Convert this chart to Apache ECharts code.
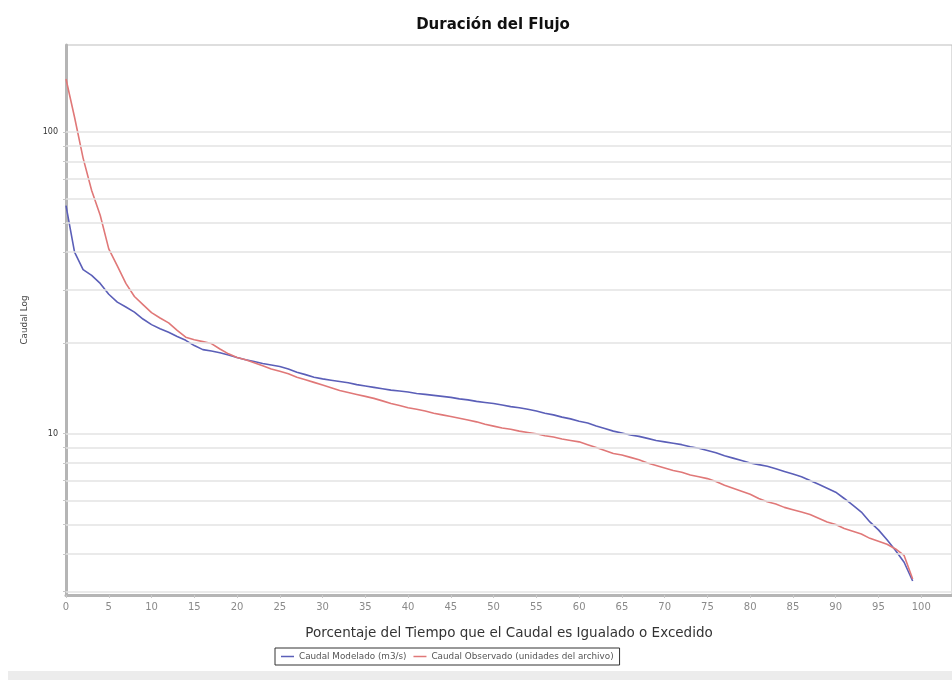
<!DOCTYPE html>
<html>
<head>
<meta charset="utf-8">
<script src="https://cdn.jsdelivr.net/npm/echarts@6/dist/echarts.min.js"></script>
<style>
  html, body { margin: 0; padding: 0; background: #fff; }
  #wrap { position: relative; width: 952px; height: 680px; background: #fff; }
  #band { position: absolute; left: 8px; right: 0; top: 671px; height: 9px; background: #ececec; }
  #chart { position: absolute; left: 0; top: 0; width: 952px; height: 680px; }
</style>
</head>
<body>
<div id="wrap"><div id="band"></div><div id="chart"></div></div>
<script>
// Percent of time flow is equalled or exceeded
const percent = [
  0,1,2,3,4,5,6,7,8,9,10,11,12,13,14,15,16,17,18,19,
  20,21,22,23,24,25,26,27,28,29,30,31,32,33,34,35,36,37,38,39,
  40,41,42,43,44,45,46,47,48,49,50,51,52,53,54,55,56,57,58,59,
  60,61,62,63,64,65,66,67,68,69,70,71,72,73,74,75,76,77,78,79,
  80,81,82,83,84,85,86,87,88,89,90,91,92,93,94,95,96,97,98,99
];
// Caudal Modelado (m3/s)
const modelado = [
  57,40,35,33.5,31.5,29,27.3,26.3,25.3,24.0,23.0,22.3,21.7,21.0,20.4,19.6,19.0,18.8,18.55,18.25,
  17.9,17.6,17.35,17.1,16.9,16.7,16.4,16.0,15.7,15.4,15.2,15.05,14.9,14.75,14.55,14.4,14.25,14.1,13.95,13.85,
  13.75,13.6,13.5,13.4,13.3,13.2,13.05,12.95,12.8,12.7,12.6,12.45,12.3,12.2,12.05,11.9,11.7,11.55,11.35,11.2,
  11.0,10.85,10.6,10.4,10.2,10.05,9.9,9.8,9.65,9.5,9.4,9.3,9.2,9.05,8.95,8.8,8.65,8.45,8.3,8.15,
  8.0,7.9,7.8,7.65,7.5,7.35,7.2,7.0,6.8,6.6,6.4,6.1,5.8,5.5,5.1,4.8,4.45,4.1,3.75,3.25
];
// Caudal Observado (unidades del archivo)
const observado = [
  150,112,82,64,53,41,36,31.5,28.5,26.8,25.2,24.2,23.3,22.0,20.9,20.5,20.2,19.9,19.1,18.4,
  17.9,17.6,17.2,16.8,16.4,16.1,15.8,15.4,15.1,14.8,14.5,14.2,13.9,13.7,13.5,13.3,13.1,12.85,12.6,12.4,
  12.2,12.05,11.9,11.7,11.55,11.4,11.25,11.1,10.95,10.75,10.6,10.45,10.35,10.2,10.1,10.0,9.85,9.75,9.6,9.5,
  9.4,9.2,9.0,8.8,8.6,8.5,8.35,8.2,8.0,7.85,7.7,7.55,7.45,7.3,7.2,7.1,6.95,6.75,6.6,6.45,
  6.3,6.1,5.95,5.85,5.7,5.6,5.5,5.4,5.25,5.1,5.0,4.85,4.75,4.65,4.5,4.4,4.3,4.15,3.95,3.3
];
// Horizontal grid lines on the log axis
const gridValues = [3,4,5,6,7,8,9,10,20,30,40,50,60,70,80,90,100];
// Labelled y ticks
const yLabels = [10, 100];

const seriesNames = ['Caudal Modelado (m3/s)', 'Caudal Observado (unidades del archivo)'];

const chart = echarts.init(document.getElementById('chart'), null, { renderer: 'canvas' });

const toPairs = arr => percent.map((p, i) => [p, arr[i]]);

chart.setOption({
  backgroundColor: 'transparent',
  animation: false,
  title: {
    text: 'Duración del Flujo',
    left: 488,
    top: 13,
    textAlign: 'center',
    textStyle: { fontFamily: 'DejaVu Sans', fontWeight: 'bold', fontSize: 15, color: '#111' }
  },
  legend: {
    data: seriesNames,
    left: 275,
    top: 648,
    padding: [4, 6, 4, 6],
    itemGap: 7,
    itemWidth: 13,
    itemHeight: 1.5,
    icon: 'rect',
    borderColor: '#333',
    borderWidth: 1,
    textStyle: { fontFamily: 'DejaVu Sans', fontSize: 8.8, color: '#555' }
  },
  grid: {
    left: 66, right: 0, top: 45, bottom: 85,
    show: true, borderColor: '#bdbdbd', borderWidth: 1, backgroundColor: '#fff'
  },
  xAxis: {
    type: 'value',
    min: 0,
    max: 103.6,
    interval: 5,
    name: 'Porcentaje del Tiempo que el Caudal es Igualado o Excedido',
    nameLocation: 'middle',
    nameGap: 31,
    nameTextStyle: { fontFamily: 'DejaVu Sans', fontSize: 13.5, color: '#333' },
    axisLine: { show: true, lineStyle: { color: '#b5b5b5', width: 3 } },
    axisTick: { show: true, length: 3, lineStyle: { color: '#c8c8c8' } },
    axisLabel: {
      margin: 7,
      fontFamily: 'DejaVu Sans', fontSize: 10, color: '#8a8a8a',
      showMaxLabel: false,
      formatter: v => (v % 5 === 0 && v <= 100) ? String(v) : ''
    },
    splitLine: { show: false }
  },
  yAxis: {
    type: 'log',
    logBase: 10,
    min: 2.92,
    max: 194.4,
    name: 'Caudal Log',
    nameLocation: 'middle',
    nameGap: 37,
    nameRotate: 90,
    nameTextStyle: { fontFamily: 'DejaVu Sans', fontSize: 8.8, color: '#444' },
    axisLine: { show: true, lineStyle: { color: '#b5b5b5', width: 3 } },
    axisTick: { show: true, length: 3, lineStyle: { color: '#c8c8c8' }, customValues: gridValues },
    axisLabel: {
      margin: 8,
      fontFamily: 'DejaVu Sans', fontSize: 8, color: '#333',
      customValues: yLabels,
      formatter: v => {
        const l = Math.log10(v);
        return (Math.abs(l - Math.round(l)) < 1e-6 && v >= 9.9) ? String(Math.round(v)) : '';
      }
    },
    splitLine: { show: false }
  },
  series: [
    {
      name: 'gridlines',
      type: 'line',
      data: [],
      z: 1,
      silent: true,
      markLine: {
        silent: true,
        symbol: ['none', 'none'],
        label: { show: false },
        lineStyle: { color: '#e3e3e3', width: 1.5, type: 'solid' },
        data: gridValues.map(v => ({ yAxis: v }))
      }
    },
    {
      name: seriesNames[0],
      type: 'line',
      data: toPairs(modelado),
      showSymbol: false,
      smooth: false,
      z: 3,
      color: '#5b5fb8',
      lineStyle: { color: '#5b5fb8', width: 1.6 }
    },
    {
      name: seriesNames[1],
      type: 'line',
      data: toPairs(observado),
      showSymbol: false,
      smooth: false,
      z: 3,
      color: '#e07878',
      lineStyle: { color: '#e07878', width: 1.6 }
    }
  ]
});
</script>
</body>
</html>
